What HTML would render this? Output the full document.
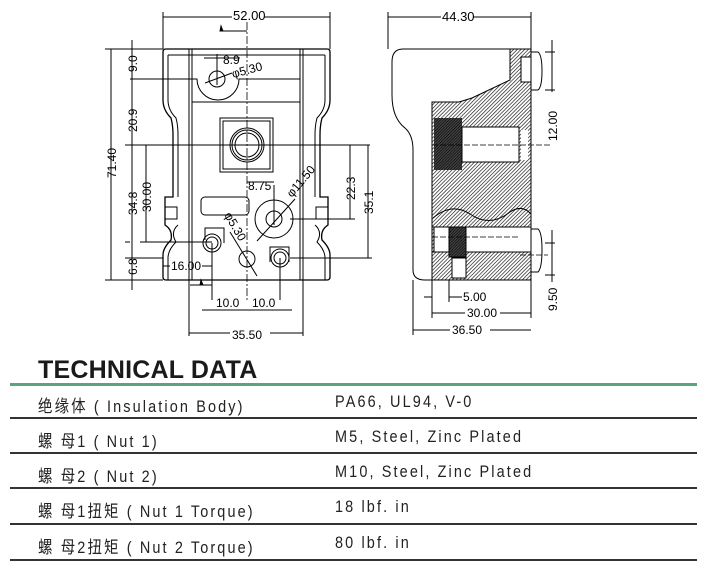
<!DOCTYPE html>
<html><head><meta charset="utf-8"><style>
body{margin:0;background:#fff;width:707px;height:583px;overflow:hidden;position:relative;font-family:"Liberation Sans","Noto Sans CJK SC",sans-serif}
.t{position:absolute;font-size:17px;letter-spacing:2.5px;color:#222;transform:scaleX(0.85);transform-origin:left center;white-space:nowrap}
.h{position:absolute;left:38px;top:356px;font-size:25px;font-weight:bold;color:#1a1a1a;letter-spacing:0.2px}
.ln{position:absolute;left:10px;width:687px;height:1.5px;background:#333}
</style></head><body>
<svg width="707" height="345" style="position:absolute;left:0;top:0" font-family="Liberation Sans,sans-serif" font-size="12" fill="none" stroke="#000" stroke-width="1">
<defs>
<pattern id="hp" width="2.6" height="2.6" patternUnits="userSpaceOnUse" patternTransform="rotate(45)"><rect width="2.6" height="2.6" fill="#fff" stroke="none"/><line x1="0" y1="0" x2="0" y2="2.6" stroke="#222" stroke-width="1.4"/></pattern>
<pattern id="hd" width="2" height="2" patternUnits="userSpaceOnUse" patternTransform="rotate(45)"><rect width="2" height="2" fill="#444" stroke="none"/><line x1="0" y1="0" x2="0" y2="2" stroke="#000" stroke-width="1.2"/></pattern>
</defs>
<path d="M166 49 H327 Q330 49 330 52 V100 Q330 110 322 118 Q320 125 320 135 V197 H328 V225 Q320 230 322 240 Q330 248 330 255 V277 Q330 280 327 280 H166 Q163 280 163 277 V255 Q163 248 171 240 Q173 230 165 225 V197 H173 V135 Q173 125 171 118 Q163 110 163 100 V52 Q163 49 166 49 Z" stroke-width="1.3"/>
<path d="M168 55 H325 M168 55 V100 Q168 110 176 118 Q178 125 178 135 V197 M325 55 V100 Q325 110 317 118 Q315 125 315 135 V197 M178 225 Q170 232 176 242 Q168 250 168 258 V280 M315 225 Q323 232 317 242 Q325 250 325 258 V280"/>
<path d="M189 49 V280 M192 49 V280 M303 49 V280 M300 49 V280"/>
<rect x="165" y="207" width="12" height="12"/><rect x="316" y="207" width="12" height="12"/>
<path d="M192 102 H300"/>
<path d="M130 79 H197 A21 21 0 0 0 239 79 H300" />
<circle cx="217" cy="79" r="8"/>
<path d="M205 83 L232 73 M204 58 H225 M217 54 V85 M240 58 H224" />
<text x="223" y="64" fill="#000" stroke="none" font-size="12">8.9</text>
<text x="233" y="78" fill="#000" stroke="none" font-size="12" transform="rotate(-15 233 78)">φ5.30</text>
<rect x="220" y="118" width="53" height="54"/>
<rect x="223" y="121" width="47" height="48"/>
<circle cx="247" cy="145" r="17"/><circle cx="247" cy="145" r="15"/><circle cx="247" cy="145" r="12"/>
<rect x="201" y="197" width="48" height="18" rx="4"/>
<circle cx="274" cy="219" r="19"/><circle cx="274" cy="219" r="8"/>
<path d="M257 241 L295 199 M274 185 V225 M247 182 H274"/>
<text x="248" y="190" fill="#000" stroke="none">8.75</text>
<text x="292" y="198" fill="#000" stroke="none" transform="rotate(-50 292 198)">φ11.50</text>
<path d="M205 240 V228 H224 V243" /><circle cx="212" cy="243" r="9"/><circle cx="212" cy="243" r="6"/>
<path d="M270 262 V247 H289 V262"/><circle cx="280" cy="258" r="9"/><circle cx="280" cy="258" r="6"/>
<circle cx="247" cy="259" r="8"/>
<path d="M230 232 L257 276"/>
<text x="224" y="215" fill="#000" stroke="none" transform="rotate(60 224 215)">φ5.30</text>
<path d="M247 8 V300" stroke-dasharray="8 2 2 2" stroke-width="0.8"/>
<path d="M163 49 V12 M330 49 V12 M163 17 H330"/>
<rect x="232" y="8" width="32" height="13" fill="#fff" stroke="none"/>
<text x="233" y="20" fill="#000" stroke="none" font-size="13">52.00</text>
<path d="M222 31 H247" /><path d="M220 31 l1-5 l2 5z" fill="#000"/>
<path d="M111 49 V280 M105 49 H163 M105 280 H163 M132 40 V290 M125 145 H370 M146 145 V242 M140 242 H212 M125 258 H163 M130 242 H125"/>
<g fill="#000" stroke="none" font-size="12">
<text transform="translate(116 178) rotate(-90)">71.40</text>
<text transform="translate(137 72) rotate(-90)">9.0</text>
<text transform="translate(137 132) rotate(-90)">20.9</text>
<text transform="translate(137 215) rotate(-90)">34.8</text>
<text transform="translate(151 212) rotate(-90)">30.00</text>
<text transform="translate(137 275) rotate(-90)">6.8</text>
<text transform="translate(355 200) rotate(-90)">22.3</text>
<text transform="translate(373 214) rotate(-90)">35.1</text>
<text x="171" y="270">16.00</text>
<text x="216" y="307">10.0</text><text x="252" y="307">10.0</text>
<text x="232" y="339">35.50</text>
</g>
<path d="M163 266 H170 M202 266 H212 M212 243 V300 M280 258 V300 M202 310 H292 M189 280 V336 M303 280 V336 M189 333 H230 M270 333 H303 M350 145 V219 M290 219 H355 M368 145 V258 M290 258 H372 M190 285 H212"/>
<path d="M200 285 l1-5 l2 5z" fill="#000"/>
<path d="M388 12 V49 M531 12 V49 M388 17 H531"/>
<rect x="441" y="9" width="32" height="13" fill="#fff" stroke="none"/>
<text x="442" y="21" fill="#000" stroke="none" font-size="13">44.30</text>
<path d="M510 49 H403 Q392 49 392 62 V95 Q392 118 405 128 Q413 135 413 150 V270 Q413 280 425 280 H432"/>
<path d="M510 49 H531 V280 H432 V102 H459 L472 98 L510 80 Z" fill="url(#hp)"/>
<rect x="434" y="118" width="28" height="52" fill="url(#hd)" stroke="none"/>
<rect x="462" y="127" width="57" height="35" fill="#fff"/>
<rect x="521" y="130" width="7" height="30" fill="#fff" stroke="none"/>
<path d="M433 218 Q452 202 470 214 Q490 228 510 212 Q522 204 531 214" />
<path d="M432 227 H531 M432 252 H531" />
<rect x="434" y="227" width="97" height="25" fill="#fff"/>
<rect x="449" y="227" width="17" height="30" fill="url(#hd)"/>
<rect x="452" y="258" width="14" height="20" fill="#fff"/>
<rect x="521" y="57" width="10" height="25" fill="#fff"/>
<path d="M531 52 H538 Q542 55 542 71 Q542 87 538 90 H531 M531 229 H538 Q542 232 542 250 Q542 268 538 272 H531"/>
<path d="M432 145 H550 M432 237 H520 M520 255 H548" stroke-dasharray="6 2" stroke-width="0.7"/>
<path d="M552 40 V92 M545 52 H555 M545 90 H555 M552 230 V282 M545 243 H555 M545 275 H555"/>
<g fill="#000" stroke="none" font-size="12">
<text transform="translate(557 141) rotate(-90)">12.00</text>
<text transform="translate(557 311) rotate(-90)">9.50</text>
<text x="463" y="301">5.00</text>
<text x="467" y="317">30.00</text>
<text x="452" y="334">36.50</text>
</g>
<path d="M432 280 V318 M449 280 V302 M531 280 V318 M413 280 V335 M424 297 H432 M449 297 H462 M432 313 H465 M500 313 H531 M413 330 H450 M490 330 H531"/>
</svg>
<div class="h">TECHNICAL DATA</div>
<div style="position:absolute;left:10px;top:383px;width:687px;height:3px;background:#5ba57c"></div>
<div class="ln" style="top:417px"></div><div class="ln" style="top:452px"></div><div class="ln" style="top:487px"></div><div class="ln" style="top:523px"></div><div class="ln" style="top:559px"></div>
<div class="t" style="left:38px;top:392px">绝缘体 ( Insulation Body)</div><div class="t" style="left:335px;top:392px">PA66, UL94, V-0</div>
<div class="t" style="left:38px;top:427px">螺 母1 ( Nut 1)</div><div class="t" style="left:335px;top:427px">M5, Steel, Zinc Plated</div>
<div class="t" style="left:38px;top:462px">螺 母2 ( Nut 2)</div><div class="t" style="left:335px;top:462px">M10, Steel, Zinc Plated</div>
<div class="t" style="left:38px;top:497px">螺 母1扭矩 ( Nut 1 Torque)</div><div class="t" style="left:335px;top:497px">18 lbf. in</div>
<div class="t" style="left:38px;top:533px">螺 母2扭矩 ( Nut 2 Torque)</div><div class="t" style="left:335px;top:533px">80 lbf. in</div>
</body></html>
